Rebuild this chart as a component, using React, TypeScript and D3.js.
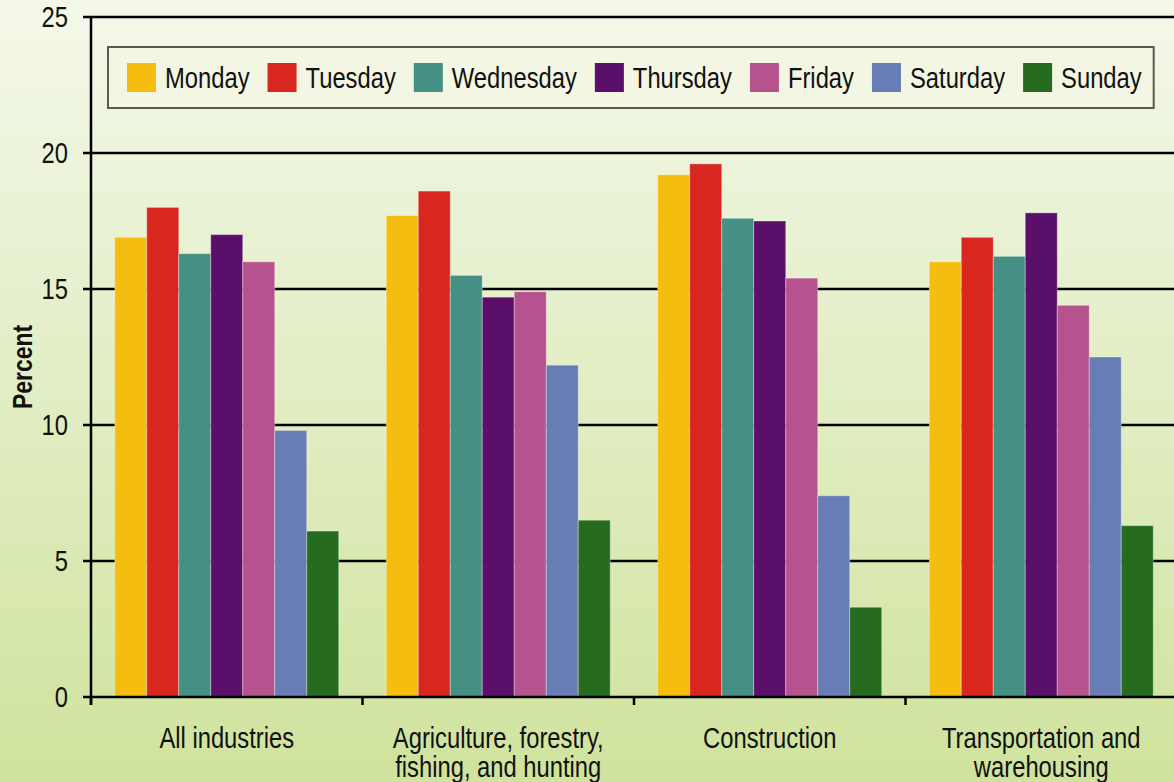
import React, { useRef, useEffect } from 'react';
import * as d3 from 'd3';

const industries = [
  ['All industries'],
  ['Agriculture, forestry,', 'fishing, and hunting'],
  ['Construction'],
  ['Transportation and', 'warehousing'],
];
const days = ['Monday', 'Tuesday', 'Wednesday', 'Thursday', 'Friday', 'Saturday', 'Sunday'];
const dayColors = ['#f5bd0f', '#d9261f', '#468f84', '#5a0f6a', '#b6528e', '#687db5', '#266b1f'];

const allIndustries = [16.9, 18.0, 16.3, 17.0, 16.0, 9.8, 6.1];
const agriculture = [17.7, 18.6, 15.5, 14.7, 14.9, 12.2, 6.5];
const construction = [19.2, 19.6, 17.6, 17.5, 15.4, 7.4, 3.3];
const transportation = [16.0, 16.9, 16.2, 17.8, 14.4, 12.5, 6.3];
const seriesByIndustry = [allIndustries, agriculture, construction, transportation];

const yTicks = [0, 5, 10, 15, 20, 25];

const width = 1174;
const height = 782;
const FONT = '"Liberation Sans", Arial, sans-serif';
const NARROW = 0.82; // condensed look of the original typeface

export default function App() {
  const svgEl = useRef<SVGSVGElement>(null);

  useEffect(() => {
    const svg = d3.select(svgEl.current);
    svg.selectAll('*').remove();

    const left = 91;
    const right = 1177;
    const top = 17;
    const bottom = 697;

    const narrowText = (parent, x, y, str, opts: any = {}) => {
      const t = parent
        .append('text')
        .attr('transform', `translate(${x},${y}) ${opts.rotate ? 'rotate(-90) ' : ''}scale(${NARROW},1)`)
        .attr('text-anchor', opts.anchor || 'start')
        .attr('font-family', FONT)
        .attr('font-weight', opts.bold ? 'bold' : 'normal')
        .attr('font-size', opts.size || 29)
        .attr('fill', '#111')
        .text(str);
      if (opts.dy) t.attr('dy', opts.dy);
      return t;
    };

    const defs = svg.append('defs');
    const bg = defs
      .append('linearGradient')
      .attr('id', 'bgGrad')
      .attr('x1', 0)
      .attr('x2', 0)
      .attr('y1', 0)
      .attr('y2', 1);
    bg.append('stop').attr('offset', '0%').attr('stop-color', '#f4f8ea');
    bg.append('stop').attr('offset', '100%').attr('stop-color', '#cfe39d');

    svg
      .append('rect')
      .attr('width', width)
      .attr('height', height)
      .attr('fill', 'url(#bgGrad)');

    const y = d3.scaleLinear().domain([0, 25]).range([bottom, top]);
    const names = industries.map((d) => d.join(' '));
    const x0 = d3
      .scaleBand()
      .domain(names)
      .range([left, right])
      .paddingInner(0.175)
      .paddingOuter(0.0875);
    const x1 = d3.scaleBand().domain(days).range([0, x0.bandwidth()]);

    // gridlines
    svg
      .append('g')
      .selectAll('line')
      .data(yTicks.filter((t) => t > 0))
      .join('line')
      .attr('x1', left)
      .attr('x2', width)
      .attr('y1', (d) => y(d))
      .attr('y2', (d) => y(d))
      .attr('stroke', '#000')
      .attr('stroke-width', 2.5);

    // bars
    const groups = svg
      .append('g')
      .selectAll('g')
      .data(seriesByIndustry)
      .join('g')
      .attr('transform', (_, i) => `translate(${x0(names[i])},0)`);

    groups
      .selectAll('rect')
      .data((d) => d.map((v, i) => ({ day: days[i], value: v, color: dayColors[i] })))
      .join('rect')
      .attr('x', (d) => x1(d.day)!)
      .attr('width', x1.bandwidth())
      .attr('y', (d) => y(d.value))
      .attr('height', (d) => bottom - y(d.value))
      .attr('fill', (d) => d.color)
      .attr('stroke', 'rgba(255,255,255,0.35)')
      .attr('stroke-width', 1);

    // y axis
    const yAxis = svg.append('g');
    yAxis
      .append('line')
      .attr('x1', left)
      .attr('x2', left)
      .attr('y1', top - 1)
      .attr('y2', bottom + 8)
      .attr('stroke', '#000')
      .attr('stroke-width', 2.5);
    yAxis
      .selectAll('line.tick')
      .data(yTicks)
      .join('line')
      .attr('class', 'tick')
      .attr('x1', left - 8)
      .attr('x2', left)
      .attr('y1', (d) => y(d))
      .attr('y2', (d) => y(d))
      .attr('stroke', '#000')
      .attr('stroke-width', 2.5);
    yTicks.forEach((t) => {
      narrowText(yAxis, 68, y(t), String(t), { anchor: 'end', dy: '0.36em' });
    });

    narrowText(svg, 32, (top + bottom) / 2 + 10, 'Percent', {
      anchor: 'middle',
      bold: true,
      rotate: true,
      size: 28,
    });

    // x axis
    const xAxis = svg.append('g');
    xAxis
      .append('line')
      .attr('x1', left)
      .attr('x2', width)
      .attr('y1', bottom)
      .attr('y2', bottom)
      .attr('stroke', '#000')
      .attr('stroke-width', 2.5);
    xAxis
      .selectAll('line.tick')
      .data(names)
      .join('line')
      .attr('class', 'tick')
      .attr('x1', (d) => x0(d)! - x0.step() * 0.0875)
      .attr('x2', (d) => x0(d)! - x0.step() * 0.0875)
      .attr('y1', bottom)
      .attr('y2', bottom + 8)
      .attr('stroke', '#000')
      .attr('stroke-width', 2.5);
    industries.forEach((lines, i) => {
      const cx = x0(names[i])! + x0.bandwidth() / 2;
      lines.forEach((line, j) => {
        narrowText(xAxis, cx, 748 + j * 29, line, { anchor: 'middle' });
      });
    });

    // legend
    const legend = svg.append('g');
    const box = legend
      .append('rect')
      .attr('x', 108)
      .attr('y', 47)
      .attr('height', 61)
      .attr('fill', '#f2f6e2')
      .attr('stroke', '#5a5a50')
      .attr('stroke-width', 2);
    let cursor = 127;
    days.forEach((day, i) => {
      legend
        .append('rect')
        .attr('x', cursor)
        .attr('y', 63)
        .attr('width', 29)
        .attr('height', 29)
        .attr('fill', dayColors[i]);
      const t = narrowText(legend, cursor + 38, 78, day, { dy: '0.36em' });
      const w = (t.node() as SVGTextElement).getComputedTextLength() * NARROW;
      cursor += 38 + w + 18;
    });
    box.attr('width', cursor - 108 - 18 + 12);
  }, []);

  return (
    <svg
      ref={svgEl}
      width={width}
      height={height}
      style={{ position: 'absolute', left: 0, top: 0, display: 'block' }}
    ></svg>
  );
}
